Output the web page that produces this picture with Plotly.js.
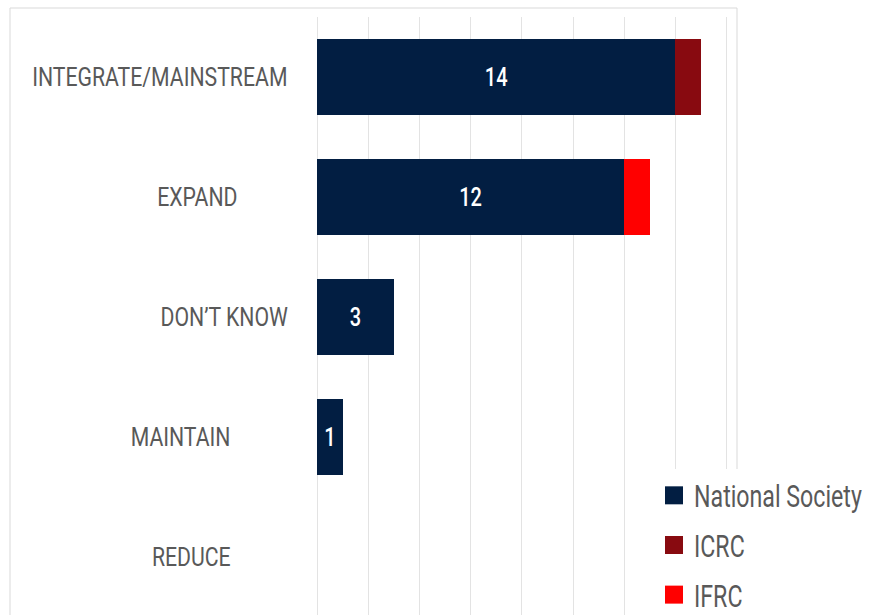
<!DOCTYPE html>
<html>
<head>
<meta charset="utf-8">
<script src="https://cdn.plot.ly/plotly-3.0.1.min.js"></script>
<style>
  html, body { margin: 0; padding: 0; background: #ffffff; }
  #chart { width: 870px; height: 615px; }
</style>
</head>
<body>
<div id="chart"></div>
<script>
// ---- data ----
const categories = ["INTEGRATE/MAINSTREAM", "EXPAND", "DON\u2019T KNOW", "MAINTAIN", "REDUCE"];
const nationalSociety = [14, 12, 3, 1, 0];
const icrc = [1, 0, 0, 0, 0];
const ifrc = [0, 1, 0, 0, 0];
const seriesNames = ["National Society", "ICRC", "IFRC"];

// ---- style / layout constants ----
const FONT = 'Roboto, "Liberation Sans", sans-serif';
const COLORS = ["#021E42", "#880A10", "#FF0000"];
const LABEL_RIGHT_PX = [290, 240, 290, 233, 233]; // right edge of each category label, in page px
const PLOT_LEFT = 317, PLOT_RIGHT = 737;
const SQUEEZE_LABEL = 0.85, SQUEEZE_LEGEND = 0.76, SQUEEZE_BAR = 0.8; // imitate the condensed typeface

const labelOf = v => v > 0 ? String(v) : "";

const traces = [
  {
    type: "bar", orientation: "h", name: seriesNames[0], legendgroup: "a",
    y: categories, x: nationalSociety,
    marker: { color: COLORS[0] },
    text: nationalSociety.map(labelOf),
    textposition: "inside", insidetextanchor: "middle",
    textfont: { family: FONT, size: 25, color: "#ffffff", weight: 500 },
    hoverinfo: "none"
  },
  {
    type: "bar", orientation: "h", name: seriesNames[1], legendgroup: "b",
    y: categories, x: icrc,
    marker: { color: COLORS[1] },
    textposition: "none", hoverinfo: "none"
  },
  {
    type: "bar", orientation: "h", name: seriesNames[2], legendgroup: "c",
    y: categories, x: ifrc,
    marker: { color: COLORS[2] },
    textposition: "none", hoverinfo: "none"
  }
];

const plotW = PLOT_RIGHT - PLOT_LEFT;
const pxToPaperX = px => (px - PLOT_LEFT) / plotW;
const plotTop = 17, plotBottom = 615;
const plotH = plotBottom - plotTop;
const pxToPaperY = py => (plotBottom - py) / plotH;

const annotations = categories.map((c, i) => ({
  xref: "paper", yref: "y",
  x: pxToPaperX(LABEL_RIGHT_PX[i]), y: c,
  xanchor: "right", yanchor: "middle",
  text: c, showarrow: false,
  font: { family: FONT, size: 25, color: "#595959" }
}));

const lineStyle = { color: "#D9D9D9", width: 1 };
const shapes = [
  { type: "line", xref: "paper", yref: "paper", x0: pxToPaperX(10), x1: pxToPaperX(737), y0: pxToPaperY(8), y1: pxToPaperY(8), line: lineStyle, layer: "below" },
  { type: "line", xref: "paper", yref: "paper", x0: pxToPaperX(10), x1: pxToPaperX(10), y0: pxToPaperY(8), y1: pxToPaperY(620), line: lineStyle, layer: "below" },
  { type: "line", xref: "paper", yref: "paper", x0: pxToPaperX(737), x1: pxToPaperX(737), y0: pxToPaperY(8), y1: pxToPaperY(474), line: lineStyle, layer: "below" },
  { type: "line", xref: "paper", yref: "paper", x0: pxToPaperX(737), x1: pxToPaperX(875), y0: pxToPaperY(474), y1: pxToPaperY(474), line: lineStyle, layer: "below" }
];

const layout = {
  width: 870, height: 615,
  margin: { l: PLOT_LEFT, r: 870 - PLOT_RIGHT, t: plotTop, b: 0, pad: 0, autoexpand: false },
  paper_bgcolor: "#ffffff", plot_bgcolor: "#ffffff",
  barmode: "stack", bargap: 0.367,
  showlegend: true,
  legend: {
    x: pxToPaperX(654), y: pxToPaperY(469), xanchor: "left", yanchor: "top",
    bgcolor: "#ffffff", borderwidth: 0,
    font: { family: FONT, size: 30.5, color: "#595959" },
    tracegroupgap: 7, itemsizing: "constant",
    traceorder: "grouped"
  },
  xaxis: {
    range: [0, plotW / 25.6], dtick: 2, tick0: 0,
    showgrid: true, gridcolor: "#E3E3E3", gridwidth: 1,
    zeroline: true, zerolinecolor: "#E3E3E3", zerolinewidth: 1,
    showticklabels: false, ticks: "", showline: false, fixedrange: true
  },
  yaxis: {
    type: "category",
    range: [-0.5 + plotH / 120, -0.5],
    showticklabels: false, ticks: "", showgrid: false, zeroline: false, showline: false
  },
  annotations: annotations,
  shapes: shapes
};

function squeeze(el, anchor, s) {
  const b = el.getBBox();
  const cx = anchor === "right" ? b.x + b.width : anchor === "left" ? b.x : b.x + b.width / 2;
  const prev = el.getAttribute("transform") || "";
  el.setAttribute("transform", prev + " translate(" + cx + ",0) scale(" + s + ",1) translate(" + (-cx) + ",0)");
}

Plotly.newPlot("chart", traces, layout, { staticPlot: true, displayModeBar: false }).then(gd => {
  gd.querySelectorAll(".legend .legendpoints path").forEach(p => {
    p.setAttribute("d", "M9,9H-9V-9H9Z");
  });
  gd.querySelectorAll(".annotation-text").forEach(t => squeeze(t, "right", SQUEEZE_LABEL));
  gd.querySelectorAll(".legend .legendtext").forEach(t => squeeze(t, "left", SQUEEZE_LEGEND));
  gd.querySelectorAll(".bartext").forEach(t => squeeze(t, "middle", SQUEEZE_BAR));
});
</script>
</body>
</html>
